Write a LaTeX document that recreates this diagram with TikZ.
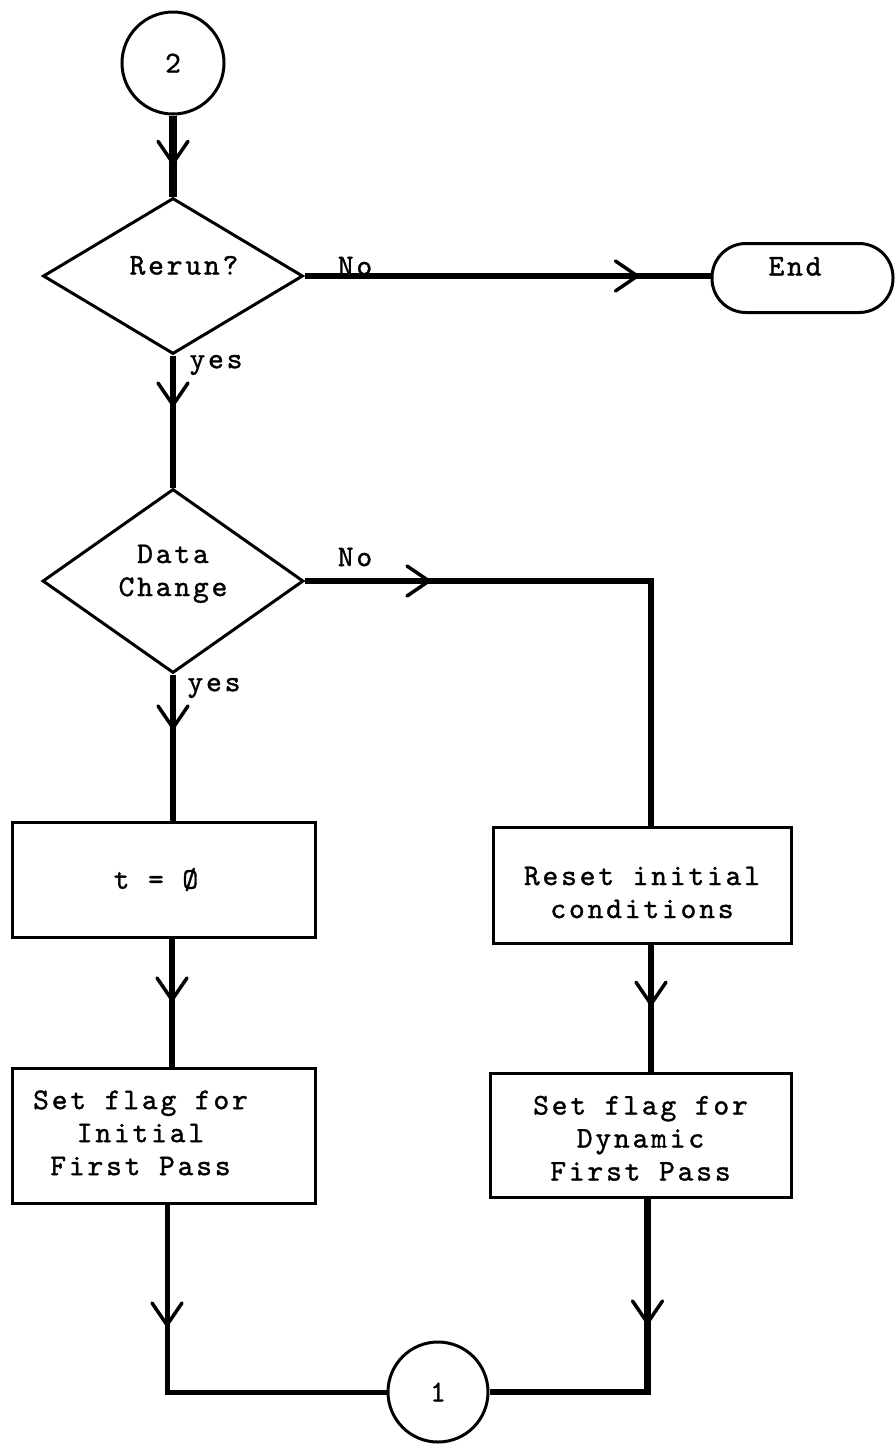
\documentclass[tikz,border=0pt]{standalone}
\usepackage{fontspec}
\setmainfont{lmmono10-regular}[Extension=.otf,LetterSpace=9.5,FakeBold=1.2]
\usetikzlibrary{shapes.geometric,decorations.markings,calc}
\begin{document}
\begin{tikzpicture}[x=1pt,y=-1pt,
  every node/.style={font=\fontsize{30pt}{33pt}\selectfont},
  shapeline/.style={draw=black, line width=3pt},
  conn/.style={draw=black, line width=6.5pt},
  chevat/.style={postaction={decorate},
    decoration={markings, mark=at position #1 with {
      \draw[line width=3.5pt, line cap=round, line join=round] (-22,-15) -- (0,0) -- (-22,15);}}},
  boxnode/.style={rectangle, shapeline, inner sep=0pt},
  decision/.style={diamond, shapeline, aspect=1.7, inner sep=0pt},
  lbl/.style={inner sep=0pt}
]
\useasboundingbox (0,0) rectangle (896,1444);

% shapes
\node[circle, shapeline, minimum size=102pt, inner sep=0pt] (c2) at (173,63) {2};
\node[decision, minimum width=260pt, minimum height=156pt, text height=18pt, text depth=21pt] (d1) at (173,276) {\hspace*{22pt}Rerun?};
\node[rectangle, rounded corners=34pt, shapeline, minimum width=181pt, minimum height=69pt, inner sep=0pt, text height=18pt, text depth=23pt] (end) at (802.5,278) {End\hspace*{15pt}};
\node[decision, minimum width=261pt, minimum height=184pt, align=center, text height=51pt, text depth=21pt] (d2) at (173,581) {Data\\Change};
\node[boxnode, minimum width=303pt, minimum height=115pt] (t) at (163.5,879.5) {t = Ø\hspace*{15pt}};
\node[boxnode, minimum width=298pt, minimum height=116pt, align=center, text height=74pt, text depth=8pt] (reset) at (642,885) {Reset initial\\conditions};
\node[boxnode, minimum width=303pt, minimum height=135pt] (flag1) at (163.5,1135.5) {\begin{tabular}{@{}c@{}}Set flag for\\Initial\\First Pass\end{tabular}\hspace*{46pt}};
\node[boxnode, minimum width=301pt, minimum height=124pt, align=center, text height=99pt, text depth=8pt] (flag2) at (640.5,1135) {Set flag for\\Dynamic\\First Pass};
\node[circle, shapeline, minimum size=100pt, inner sep=0pt] (c1) at (438,1392) {1};

% labels
\node[lbl] (no1) at (355,266) {No};
\node[lbl] (yes1) at (216,365) {yes};
\node[lbl] (no2) at (355,557) {No};
\node[lbl] (yes2) at (214,688) {yes};

% connectors
\draw[conn, line width=8pt, chevat=0.59] (c2) -- (d1);
\draw[conn, chevat=0.82] (d1.east) -- (d1.east -| end.west);
\draw[conn, chevat=0.375] (d1) -- (d2);
\draw[conn, chevat=0.21] (d2.east) -| ([xshift=9pt]reset.north);
\draw[conn, chevat=0.366] (d2.south) -- (d2.south |- t.north);
\draw[conn, chevat=0.48] ([xshift=8.5pt]t.south) -- ([xshift=8.5pt]flag1.north);
\draw[conn, chevat=0.47] ([xshift=9pt]reset.south) -- ([xshift=9pt]reset.south |- flag2.north);
\draw[conn, line width=5pt, chevat=0.296] ([xshift=3.5pt]flag1.south) |- (c1);
\draw[conn, chevat=0.354] ([xshift=7pt]flag2.south) |- (c1);
\end{tikzpicture}
\end{document}
